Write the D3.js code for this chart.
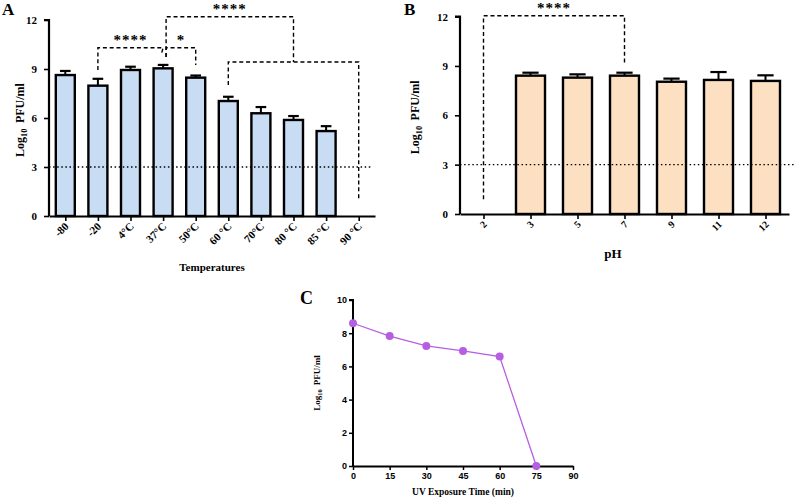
<!DOCTYPE html>
<html><head><meta charset="utf-8">
<script src="https://cdn.jsdelivr.net/npm/d3@7"></script>
<style>body{margin:0;background:#fff}svg{display:block}</style>
</head><body>
<script>
// ---------- DATA ----------
const tempCategories = ["-80","-20","4°C","37°C","50°C","60 °C","70°C","80 °C","85 °C","90 °C"];
const tempMeans  = [8.63, 7.98, 8.94, 9.04, 8.47, 7.04, 6.29, 5.88, 5.20, 0];
const tempErrTop = [8.88, 8.40, 9.14, 9.25, 8.60, 7.30, 6.67, 6.12, 5.50, 0];

const phCategories = ["2","3","5","7","9","11","12"];
const phMeans  = [0, 8.41, 8.29, 8.41, 8.04, 8.15, 8.09];
const phErrTop = [0, 8.59, 8.49, 8.59, 8.23, 8.63, 8.43];

const uvTimes  = [0, 15, 30, 45, 60, 75];
const uvValues = [8.6, 7.83, 7.23, 6.93, 6.59, 0];

const abTicks = [0, 3, 6, 9, 12];
const uvYTicks = [0, 2, 4, 6, 8, 10];
const uvXTicks = [0, 15, 30, 45, 60, 75, 90];
const detectionLimit = 3;

// brackets: [category, value] path points, label
const tempBrackets = [
  {pts: [["-20",8.94],["-20",10.3],["37°C",10.3],["37°C",9.86]], dx:[0,0,0,-2], label:"****"},
  {pts: [["37°C",9.74],["37°C",10.3],["50°C",10.3],["50°C",9.25]], dx:[3,3,0,0], label:"*"},
  {pts: [["37°C",9.74],["37°C",12.2],["80 °C",12.2],["80 °C",9.43]], dx:[3,3,0,0], label:"****"},
  {pts: [["60 °C",8.02],["60 °C",9.43],["90 °C",9.43],["90 °C",0.98]], dx:[0,0,0,0], label:null}
];
const phBrackets = [
  {pts: [["2",0.9],["2",12.05],["7",12.05],["7",9.16]], dx:[0,0,0,0], label:"****"}
];

// ---------- DRAW ----------
const W = 794, H = 498;
const svg = d3.select("body").append("svg").attr("width", W).attr("height", H);
const serif = "'Liberation Serif','Times New Roman',serif";
const sans = "'Liberation Sans',Arial,sans-serif";

function yLabel(g, x, y, size) {
  const t = g.append("text").attr("transform", `translate(${x},${y}) rotate(-90)`)
    .attr("text-anchor", "middle").attr("font-family", serif).attr("font-weight", "bold")
    .attr("font-size", size);
  t.append("tspan").text("Log");
  t.append("tspan").text("10").attr("font-size", size * 0.7).attr("dy", size * 0.25);
  t.append("tspan").text("PFU/ml").attr("dy", -size * 0.25).attr("dx", size * 0.45);
}

function barPanel(opt) {
  const g = svg.append("g");
  const x = d3.scalePoint().domain(opt.cats).range(opt.xr).padding(0.5);
  const y = d3.scaleLinear().domain([0, 12]).range(opt.yr);

  opt.cats.forEach((c, i) => {
    const v = opt.means[i];
    if (v <= 0) return;
    const cx = x(c);
    g.append("line").attr("x1", cx).attr("x2", cx).attr("y1", y(v)).attr("y2", y(opt.err[i]))
      .attr("stroke", "#000").attr("stroke-width", 2);
    g.append("line").attr("x1", cx - opt.bw * 0.28).attr("x2", cx + opt.bw * 0.28)
      .attr("y1", y(opt.err[i])).attr("y2", y(opt.err[i])).attr("stroke", "#000").attr("stroke-width", 2.2);
    g.append("rect").attr("x", cx - opt.bw / 2).attr("y", y(v)).attr("width", opt.bw)
      .attr("height", y(0) - y(v)).attr("fill", opt.fill).attr("stroke", "#000").attr("stroke-width", 2.4);
  });

  g.append("line").attr("x1", opt.xr[0]).attr("x2", opt.dotEnd)
    .attr("y1", y(detectionLimit)).attr("y2", y(detectionLimit))
    .attr("stroke", "#000").attr("stroke-width", 1.3).attr("stroke-dasharray", "1.5,2.6");

  opt.brackets.forEach(b => {
    const pts = b.pts.map((p, k) => [x(p[0]) + b.dx[k], y(p[1])]);
    g.append("path").attr("d", d3.line()(pts)).attr("fill", "none")
      .attr("stroke", "#000").attr("stroke-width", 1.4).attr("stroke-dasharray", "4,2.8");
    if (b.label) {
      const lx = (pts[1][0] + pts[2][0]) / 2;
      g.append("text").attr("x", lx).attr("y", pts[1][1] - 3).attr("text-anchor", "middle")
        .attr("font-family", serif).attr("font-weight", "bold").attr("font-size", 15)
        .attr("letter-spacing", 1).text(b.label);
    }
  });

  const ya = g.append("g").attr("transform", `translate(${opt.xr[0]},0)`)
    .call(d3.axisLeft(y).tickValues(abTicks).tickSize(5).tickPadding(7));
  const xa = g.append("g").attr("transform", `translate(0,${y(0)})`)
    .call(d3.axisBottom(x).tickSize(5).tickSizeOuter(0).tickFormat(""));
  [ya, xa].forEach(a => {
    a.select(".domain").attr("stroke-width", 2.2);
    a.selectAll(".tick line").attr("stroke-width", 1.6);
    a.selectAll("text").attr("font-family", serif).attr("font-weight", "bold").attr("font-size", 11);
  });
  ya.select(".domain").attr("d", `M-5,${y(12)}H0V${y(0)}`);
  opt.cats.forEach(c => {
    g.append("text").attr("transform", `translate(${x(c) + 4},${y(0) + 11}) rotate(-45)`)
      .attr("text-anchor", "end").attr("font-family", serif).attr("font-weight", "bold")
      .attr("font-size", opt.tickSize).text(c);
  });
  g.append("text").attr("x", opt.xTitlePos[0]).attr("y", opt.xTitlePos[1]).attr("text-anchor", "middle")
    .attr("font-family", serif).attr("font-weight", "bold").attr("font-size", opt.xTitleSize).text(opt.xTitle);
  yLabel(g, opt.yLabelX, (opt.yr[0] + opt.yr[1]) / 2 + 2, 12);
  g.append("text").attr("x", opt.letterPos[0]).attr("y", opt.letterPos[1])
    .attr("font-family", serif).attr("font-weight", "bold").attr("font-size", 17).text(opt.letter);
}

barPanel({cats: tempCategories, means: tempMeans, err: tempErrTop, xr: [49, 375], yr: [216, 20],
  bw: 19, fill: "#c8dcf4", dotEnd: 372, brackets: tempBrackets, tickSize: 11,
  xTitle: "Temperatures", xTitlePos: [212, 271], xTitleSize: 11, yLabelX: 24,
  letter: "A", letterPos: [2, 15]});

barPanel({cats: phCategories, means: phMeans, err: phErrTop, xr: [460, 789], yr: [214, 16.6],
  bw: 29, fill: "#fde0c2", dotEnd: 794, brackets: phBrackets, tickSize: 10,
  xTitle: "pH", xTitlePos: [613, 258], xTitleSize: 13, yLabelX: 419,
  letter: "B", letterPos: [404, 15]});

// ---------- Panel C ----------
{
  const g = svg.append("g");
  const x = d3.scaleLinear().domain([0, 90]).range([353, 573]);
  const y = d3.scaleLinear().domain([0, 10]).range([466, 300]);
  const col = "#b65ee3";
  g.append("path").datum(uvTimes.map((t, i) => [t, uvValues[i]]))
    .attr("d", d3.line().x(d => x(d[0])).y(d => y(d[1]))).attr("fill", "none")
    .attr("stroke", col).attr("stroke-width", 1.3);
  const ya = g.append("g").attr("transform", `translate(${x(0)},0)`)
    .call(d3.axisLeft(y).tickValues(uvYTicks).tickSize(4).tickPadding(2));
  const xa = g.append("g").attr("transform", `translate(0,${y(0)})`)
    .call(d3.axisBottom(x).tickValues(uvXTicks).tickSize(4).tickSizeOuter(0).tickPadding(3));
  [ya, xa].forEach(a => {
    a.select(".domain").attr("stroke-width", 2);
    a.selectAll(".tick line").attr("stroke-width", 1.5);
    a.selectAll("text").attr("font-family", sans).attr("font-weight", "bold").attr("font-size", 9).attr("fill", "#000");
  });
  ya.select(".domain").attr("d", `M-4,${y(10)}H0V${y(0)}`);
  uvTimes.forEach((t, i) => {
    g.append("circle").attr("cx", x(t)).attr("cy", y(uvValues[i])).attr("r", 4).attr("fill", col);
  });
  g.append("text").attr("x", 463).attr("y", 495).attr("text-anchor", "middle")
    .attr("font-family", serif).attr("font-weight", "bold").attr("font-size", 9.5).text("UV Exposure Time (min)");
  yLabel(g, 320, 383, 9);
  g.append("text").attr("x", 300).attr("y", 304).attr("font-family", serif).attr("font-weight", "bold")
    .attr("font-size", 18).text("C");
}
</script>
</body></html>
